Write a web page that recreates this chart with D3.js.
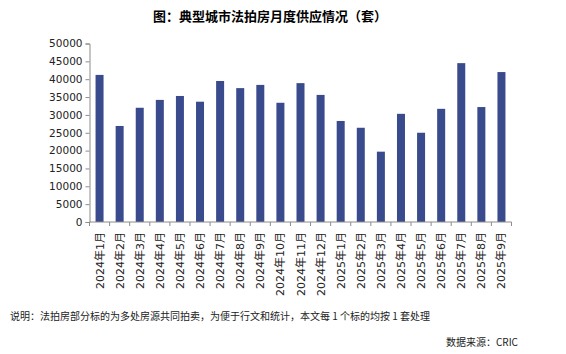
<!DOCTYPE html>
<html>
<head>
<meta charset="utf-8">
<script src="https://cdn.jsdelivr.net/npm/d3@7"></script>
<style>
  body { margin: 0; background: #fff; }
  text { font-family: "DejaVu Sans", "Noto Sans CJK SC", sans-serif; }
</style>
</head>
<body>
<script>
// données : mois et nombre de biens
const mois = ['2024年1月','2024年2月','2024年3月','2024年4月','2024年5月','2024年6月',
  '2024年7月','2024年8月','2024年9月','2024年10月','2024年11月','2024年12月',
  '2025年1月','2025年2月','2025年3月','2025年4月','2025年5月','2025年6月',
  '2025年7月','2025年8月','2025年9月'];
const offre = [41200, 26900, 32000, 34200, 35300, 33700, 39500, 37500, 38400, 33400, 38900, 35600,
  28300, 26400, 19700, 30300, 25000, 31700, 44500, 32200, 42000];
const graduations = [0, 5000, 10000, 15000, 20000, 25000, 30000, 35000, 40000, 45000, 50000];

const largeur = 566, hauteur = 354;
const marge = {gauche: 89.5, droite: 54.5, haut: 43.5, bas: 131.5};

// créer le canevas
const canevas = d3.select('body')
  .append('svg')
  .attr('width', largeur)
  .attr('height', hauteur);

// titre
canevas.append('text')
  .attr('x', 270).attr('y', 21)
  .attr('text-anchor', 'middle')
  .style('font-family', '"Noto Sans CJK SC"')
  .style('font-size', '13px')
  .style('font-weight', 'bold')
  .text('图：典型城市法拍房月度供应情况（套）');

// échelles
const x = d3.scaleBand()
  .domain(mois)
  .range([marge.gauche, largeur - marge.droite]);
const y = d3.scaleLinear()
  .domain([0, 50000])
  .range([hauteur - marge.bas + 0.5 - 1, marge.haut]);

// barres
canevas.append('g')
  .selectAll('rect')
  .data(offre)
  .enter()
  .append('rect')
  .attr('x', (d, i) => x(mois[i]) + x.bandwidth() / 2 - 4)
  .attr('width', 8)
  .attr('y', d => y(d))
  .attr('height', d => y(0) - y(d))
  .attr('fill', '#3a4b8d');

// axe vertical
const axeY = canevas.append('g')
  .attr('transform', `translate(${marge.gauche},0)`)
  .call(d3.axisLeft(y).tickValues(graduations).tickSize(4).tickPadding(3).tickFormat(d3.format('d')));
axeY.select('.domain').attr('stroke', '#8c8c8c');
axeY.selectAll('.tick line').attr('stroke', '#8c8c8c');
axeY.selectAll('text').style('font-size', '10.5px').attr('fill', '#222');

// axe horizontal : graduations entre les catégories
const y0 = y(0);
canevas.append('line')
  .attr('x1', marge.gauche).attr('x2', largeur - marge.droite)
  .attr('y1', y0).attr('y2', y0)
  .attr('stroke', '#8c8c8c');
canevas.append('g')
  .selectAll('line')
  .data(d3.range(mois.length + 1))
  .enter()
  .append('line')
  .attr('x1', i => marge.gauche + i * x.step())
  .attr('x2', i => marge.gauche + i * x.step())
  .attr('y1', y0).attr('y2', y0 + 4)
  .attr('stroke', '#8c8c8c');

// étiquettes verticales
canevas.append('g')
  .selectAll('text')
  .data(mois)
  .enter()
  .append('text')
  .attr('transform', d => `translate(${x(d) + x.bandwidth() / 2 + 4},${y0 + 10}) rotate(-90)`)
  .attr('text-anchor', 'end')
  .style('font-size', '11px')
  .attr('fill', '#222')
  .text(d => d);

// notes
canevas.append('text')
  .attr('x', 10).attr('y', 320)
  .style('font-family', '"Noto Sans CJK SC"')
  .style('font-size', '10px')
  .attr('fill', '#222')
  .text('说明：法拍房部分标的为多处房源共同拍卖，为便于行文和统计，本文每 1 个标的均按 1 套处理');
canevas.append('text')
  .attr('x', 518).attr('y', 346)
  .attr('text-anchor', 'end')
  .style('font-family', '"Noto Sans CJK SC"')
  .style('font-size', '10px')
  .attr('fill', '#222')
  .text('数据来源：CRIC');
</script>
</body>
</html>
